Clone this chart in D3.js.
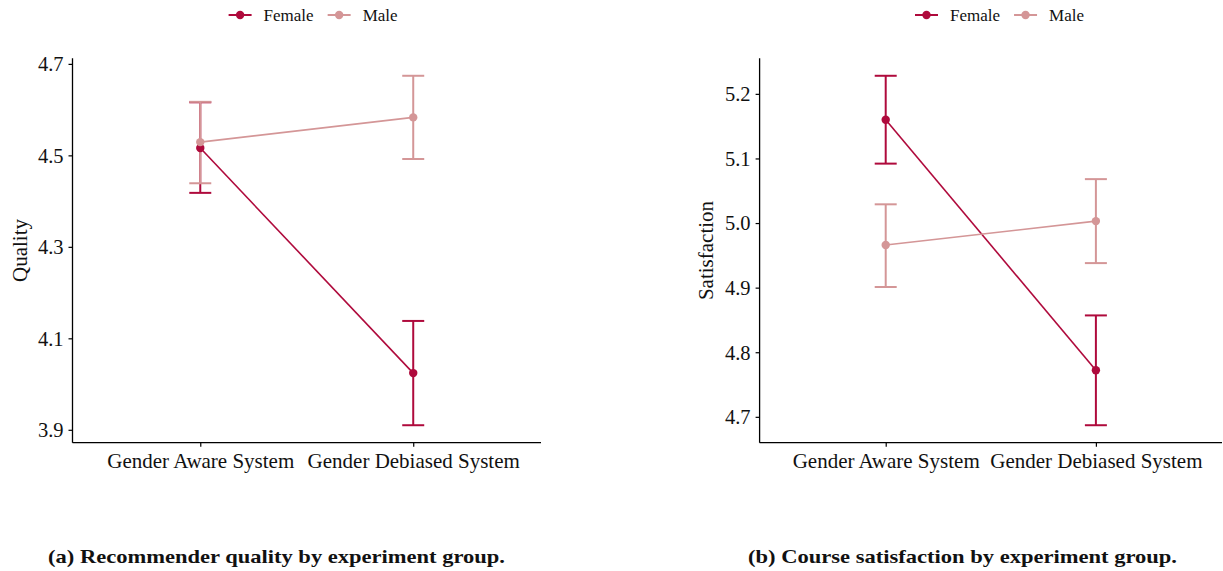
<!DOCTYPE html>
<html>
<head>
<meta charset="utf-8">
<script src="https://cdn.jsdelivr.net/npm/d3@7"></script>
<style>
  body { margin: 0; background: #fff; }
  svg text { font-family: 'Liberation Serif', 'DejaVu Serif', serif; fill: #111; }
</style>
</head>
<body>
<svg id="chart" width="1223" height="571"></svg>
<script>
const groups = ['Gender Aware System', 'Gender Debiased System']
const genders = ['Female', 'Male']
const colors = ['#af0a3c', '#d49697']

// (a) recommender quality
const qualityFemale = [4.516, 4.024]
const qualityFemaleLo = [4.418, 3.910]
const qualityFemaleHi = [4.616, 4.138]
const qualityMale = [4.529, 4.583]
const qualityMaleLo = [4.439, 4.492]
const qualityMaleHi = [4.617, 4.674]
const qualityTicks = [3.9, 4.1, 4.3, 4.5, 4.7]

// (b) course satisfaction
const satFemale = [5.160, 4.772]
const satFemaleLo = [5.092, 4.687]
const satFemaleHi = [5.228, 4.857]
const satMale = [4.966, 5.003]
const satMaleLo = [4.901, 4.938]
const satMaleHi = [5.029, 5.068]
const satTicks = [4.7, 4.8, 4.9, 5.0, 5.1, 5.2]

const svg = d3.select('#chart')
const plotTop = 58.3, plotBottom = 442.7

const drawPanel = (opts) => {
    let { left, right, ylab, ylabX, ticks, series, legendX, caption, captionX, captionW } = opts

    let lo = d3.min(series, s => d3.min(s.lo))
    let hi = d3.max(series, s => d3.max(s.hi))
    let pad = (hi - lo) * 0.05

    let x = d3.scalePoint().domain(groups).range([left, right]).padding(0.6)
    let y = d3.scaleLinear().domain([lo - pad, hi + pad]).range([plotBottom, plotTop])

    let g = svg.append('g')

    // axes
    let yAxis = d3.axisLeft(y).tickValues(ticks).tickFormat(d3.format('.1f')).tickSize(4).tickSizeOuter(0).tickPadding(5)
    let xAxis = d3.axisBottom(x).tickSize(4).tickSizeOuter(0).tickPadding(6)

    let ya = g.append('g').attr('transform', `translate(${left},0)`).call(yAxis)
    let xa = g.append('g').attr('transform', `translate(0,${plotBottom})`).call(xAxis)
    ya.select('.domain').attr('d', `M0,${plotTop}V${plotBottom}`)
    xa.select('.domain').attr('d', `M${left},0H${right}`)
    g.selectAll('.domain').attr('stroke', '#000').attr('stroke-width', 1.3)
    g.selectAll('.tick line').attr('stroke', '#000').attr('stroke-width', 1.2)
    ya.selectAll('text').style('font-size', '20.5px').style('font-family', "'Liberation Serif', serif").attr('fill', '#111').attr('dy', '0.33em')
    xa.selectAll('text').style('font-size', '21px').style('font-family', "'Liberation Serif', serif").attr('fill', '#111').attr('dy', '0.71em')

    g.append('text')
        .attr('transform', `translate(${ylabX},${(plotTop + plotBottom) / 2}) rotate(-90)`)
        .attr('text-anchor', 'middle')
        .style('font-size', '21px')
        .text(ylab)

    // error bars
    series.forEach((s, i) => {
        groups.forEach((grp, j) => {
            let cx = x(grp)
            g.append('line').attr('x1', cx).attr('x2', cx).attr('y1', y(s.lo[j])).attr('y2', y(s.hi[j]))
                .attr('stroke', colors[i]).attr('stroke-width', 2)
            ;[s.lo[j], s.hi[j]].forEach(v => {
                g.append('line').attr('x1', cx - 11).attr('x2', cx + 11).attr('y1', y(v)).attr('y2', y(v))
                    .attr('stroke', colors[i]).attr('stroke-width', 2)
            })
        })
    })

    // lines
    let line = d3.line().x((d, j) => x(groups[j])).y(d => y(d))
    series.forEach((s, i) => {
        g.append('path').datum(s.mean).attr('d', line)
            .attr('fill', 'none').attr('stroke', colors[i]).attr('stroke-width', 1.6)
    })

    // points
    series.forEach((s, i) => {
        g.selectAll(null).data(s.mean).enter().append('circle')
            .attr('cx', (d, j) => x(groups[j]))
            .attr('cy', d => y(d))
            .attr('r', 4.2)
            .attr('fill', colors[i])
    })

    // legend
    let lg = g.append('g').attr('transform', `translate(${legendX},15)`)
    let cursor = 0
    genders.forEach((name, i) => {
        lg.append('line').attr('x1', cursor).attr('x2', cursor + 23).attr('y1', 0).attr('y2', 0)
            .attr('stroke', colors[i]).attr('stroke-width', 2)
        lg.append('circle').attr('cx', cursor + 11.5).attr('cy', 0).attr('r', 4.2).attr('fill', colors[i])
        let t = lg.append('text').attr('x', cursor + 35).attr('y', 0).attr('dy', '0.35em')
            .style('font-size', '17px').text(name)
        cursor += 35 + t.node().getComputedTextLength() + 14
    })

    svg.append('text')
        .attr('x', captionX).attr('y', 563)
        .attr('textLength', captionW).attr('lengthAdjust', 'spacingAndGlyphs')
        .style('font-size', '19px').style('font-weight', 'bold')
        .text(caption)
}

drawPanel({
    left: 72.5, right: 541, ylab: 'Quality', ylabX: 27, ticks: qualityTicks,
    series: [
        { mean: qualityFemale, lo: qualityFemaleLo, hi: qualityFemaleHi },
        { mean: qualityMale, lo: qualityMaleLo, hi: qualityMaleHi }
    ],
    legendX: 228.6,
    caption: '(a) Recommender quality by experiment group.', captionX: 48, captionW: 457
})

drawPanel({
    left: 759.6, right: 1222, ylab: 'Satisfaction', ylabX: 713, ticks: satTicks,
    series: [
        { mean: satFemale, lo: satFemaleLo, hi: satFemaleHi },
        { mean: satMale, lo: satMaleLo, hi: satMaleHi }
    ],
    legendX: 915,
    caption: '(b) Course satisfaction by experiment group.', captionX: 748, captionW: 429
})
</script>
</body>
</html>
